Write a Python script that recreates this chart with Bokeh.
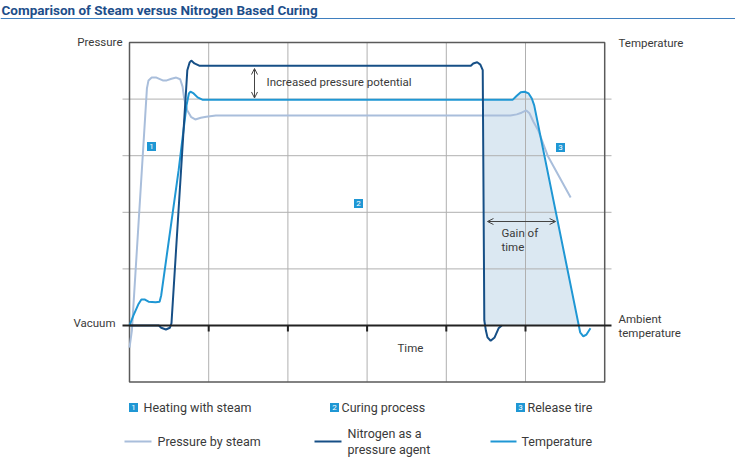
from bokeh.plotting import figure
from bokeh.models import Arrow, OpenHead, Span
from bokeh.core.properties import value
from bokeh.embed import file_html
from bokeh.resources import INLINE
import numpy as np

# x: time in grid columns, y: level in grid rows (0 = vacuum / ambient temperature)
steam_x = [0.00, 0.03, 0.22, 0.24, 0.28, 0.34, 0.42, 0.47, 0.53, 0.59, 0.64, 0.67, 0.69,
           0.73, 0.78, 0.83, 0.90, 0.97, 1.09, 4.81, 4.89, 4.95, 5.01, 5.05, 5.10, 5.16,
           5.28, 5.57]
steam_y = [-0.39, -0.09, 4.19, 4.33, 4.38, 4.38, 4.33, 4.33, 4.36, 4.38, 4.35, 4.22, 4.01,
           3.80, 3.68, 3.64, 3.67, 3.69, 3.71, 3.71, 3.73, 3.76, 3.80, 3.75, 3.60, 3.45,
           3.00, 2.26]

nitrogen_x = [0.00, 0.37, 0.40, 0.46, 0.51, 0.53, 0.73, 0.76, 0.78, 0.82, 0.88, 0.96,
              4.31, 4.34, 4.39, 4.43, 4.46, 4.48, 4.50, 4.52, 4.56, 4.61, 4.66, 4.70]
nitrogen_y = [0.00, 0.00, -0.04, -0.07, -0.04, 0.04, 4.51, 4.65, 4.68, 4.63, 4.59, 4.59,
              4.59, 4.63, 4.65, 4.61, 4.51, 0.09, -0.09, -0.21, -0.27, -0.21, -0.05, 0.00]

temp_x = [0.00, 0.05, 0.11, 0.15, 0.19, 0.24, 0.33, 0.38, 0.40, 0.62, 0.72, 0.75, 0.77,
          0.81, 0.86, 0.92, 4.84, 4.89, 4.94, 4.99, 5.04, 5.08, 5.11, 5.67, 5.69, 5.73,
          5.77, 5.82]
temp_y = [0.00, 0.18, 0.37, 0.46, 0.46, 0.42, 0.41, 0.42, 0.53, 2.74, 3.89, 4.10, 4.13,
          4.10, 4.03, 3.99, 3.99, 4.06, 4.12, 4.13, 4.10, 4.01, 3.89, 0.02, -0.12, -0.19,
          -0.16, -0.05]

grid_cols = [1, 2, 3, 4, 5]
grid_rows = [1, 2, 3, 4]
x_lo, x_hi = 0, 6
y_lo, y_hi = -1, 5

gain_start, gain_end = 4.47, 5.67
nitrogen_level, temp_level = 4.59, 3.99

FONT = "Roboto"
TXT = "#3a3a3a"
STEAM = "#a9bedb"
NITRO = "#164f86"
TEMP = "#1f97d4"


# screenshot pixel -> data helpers (for placing labels)
def sx(px):
    return (px - 129) / 79.2


def sy(py):
    return (325 - py) / 56.6


p = figure(width=735, height=460, x_range=(sx(0), sx(735)), y_range=(sy(460), sy(0)),
           output_backend="svg", toolbar_location=None, x_axis_location=None,
           y_axis_location=None, min_border=0, tools="")
p.grid.visible = False
p.outline_line_color = None

# gain of time area between nitrogen release and temperature drop
tx = np.array(temp_x)
ty = np.array(temp_y)
mask = (tx > gain_start) & (tx < gain_end)
fill_x = [gain_start] + list(tx[mask]) + [gain_end, gain_end, gain_start]
fill_y = [np.interp(gain_start, tx, ty)] + list(ty[mask]) + [np.interp(gain_end, tx, ty), 0, 0]
p.patch(fill_x, fill_y, fill_color="#dbe8f2", line_color=None)

# grid
p.segment(x0=grid_cols, y0=[y_lo] * 5, x1=grid_cols, y1=[y_hi] * 5, line_color="#b0b0b0", line_width=1)
p.segment(x0=[sx(122)] * 4, y0=grid_rows, x1=[sx(611)] * 4, y1=grid_rows, line_color="#b0b0b0", line_width=1)
p.quad(left=x_lo, right=x_hi, bottom=y_lo, top=y_hi, fill_color=None, line_color="#5a5a5a", line_width=1.5)

# curves
p.line(steam_x, steam_y, line_color=STEAM, line_width=2)
p.line(temp_x, temp_y, line_color=TEMP, line_width=2)
p.line(nitrogen_x, nitrogen_y, line_color=NITRO, line_width=2)

# baseline with ticks
p.segment(x0=[sx(122)], y0=[0], x1=[sx(611)], y1=[0], line_color="#222222", line_width=2)
p.segment(x0=grid_cols, y0=[0] * 5, x1=grid_cols, y1=[sy(331)] * 5, line_color="#222222", line_width=2)

# arrows
p.add_layout(Arrow(start=OpenHead(size=6, line_color="#444444", line_width=1),
                   end=OpenHead(size=6, line_color="#444444", line_width=1),
                   x_start=sx(254), x_end=sx(254), y_start=temp_level + 0.03, y_end=nitrogen_level - 0.05,
                   line_color="#444444", line_width=1))
p.add_layout(Arrow(start=OpenHead(size=6, line_color="#444444", line_width=1),
                   end=OpenHead(size=6, line_color="#444444", line_width=1),
                   x_start=gain_start + 0.05, x_end=5.38, y_start=sy(221), y_end=sy(221),
                   line_color="#444444", line_width=1))


# texts
def txt(x, y, s, align="left", size="11.5px", color=TXT, style="normal", baseline="middle"):
    p.text(x=[x], y=[y], text=[s], text_font=value(FONT), text_font_size=size,
           text_color=color, text_align=align, text_baseline=baseline, text_font_style=style)


txt(sx(122), sy(41), "Pressure", align="right")
txt(sx(618), sy(42), "Temperature")
txt(sx(115), sy(322), "Vacuum", align="right")
txt(sx(618), sy(318), "Ambient")
txt(sx(618), sy(332), "temperature")
txt(sx(397), sy(347), "Time")
txt(sx(266), sy(81), "Increased pressure potential")
txt(sx(501), sy(232), "Gain of")
txt(sx(501), sy(246), "time")

txt(sx(1), sy(9), "Comparison of Steam versus Nitrogen Based Curing", size="13.5px",
    color="#1d4e8a", style="bold")
p.add_layout(Span(location=sy(18), dimension="width", line_color="#3f7fbf", line_width=1))

# numbered badges
badge_x = [sx(151), sx(358), sx(560), sx(133), sx(334), sx(520)]
badge_y = [sy(146), sy(203), sy(147), sy(407), sy(407), sy(407)]
badge_t = ["1", "2", "3", "1", "2", "3"]
p.rect(x=badge_x, y=badge_y, width=9, height=9, width_units="screen", height_units="screen",
       fill_color=TEMP, line_color=None)
p.text(x=badge_x, y=badge_y, text=badge_t, text_font=value(FONT), text_font_size="8px",
       text_color="white", text_align="center", text_baseline="middle")

# legend
txt(sx(143), sy(407), "Heating with steam", size="12.5px")
txt(sx(341), sy(407), "Curing process", size="12.5px")
txt(sx(527), sy(407), "Release tire", size="12.5px")

p.segment(x0=[sx(124), sx(314), sx(490)], y0=[sy(441)] * 3, x1=[sx(151), sx(341), sx(516)],
          y1=[sy(441)] * 3, line_color=[STEAM, NITRO, TEMP], line_width=2)
txt(sx(157), sy(441), "Pressure by steam", size="12.5px")
txt(sx(347), sy(433), "Nitrogen as a", size="12.5px")
txt(sx(347), sy(449), "pressure agent", size="12.5px")
txt(sx(521), sy(441), "Temperature", size="12.5px")

open("out.html", "w").write(file_html(p, INLINE))
